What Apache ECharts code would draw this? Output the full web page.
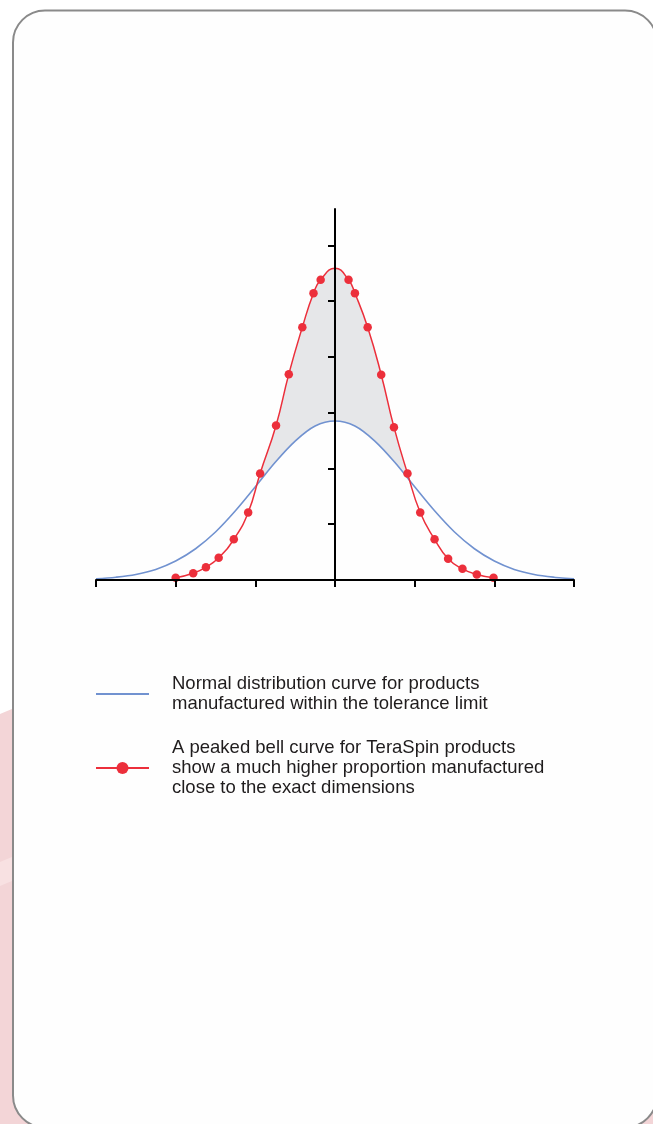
<!DOCTYPE html>
<html>
<head>
<meta charset="utf-8">
<script src="https://cdn.jsdelivr.net/npm/echarts@6/dist/echarts.min.js"></script>
<style>
html,body{margin:0;padding:0;background:#ffffff;}
#chart{width:653px;height:1124px;}
</style>
</head>
<body>
<div id="chart"></div>
<script>
// Normal distribution curve (blue)
var blueX = [-3, -2.75, -2.5, -2.25, -2, -1.75, -1.5, -1.25, -1, -0.75, -0.5, -0.25, 0, 0.25, 0.5, 0.75, 1, 1.25, 1.5, 1.75, 2, 2.25, 2.5, 2.75, 3];
var blueY = [0.02, 0.05, 0.10, 0.19, 0.34, 0.56, 0.86, 1.24, 1.67, 2.11, 2.49, 2.76, 2.85, 2.76, 2.49, 2.11, 1.67, 1.24, 0.86, 0.56, 0.34, 0.19, 0.10, 0.05, 0.02];
// Peaked bell curve (red)
var redX = [-2.00, -1.78, -1.62, -1.46, -1.27, -1.09, -0.94, -0.74, -0.58, -0.41, -0.27, -0.18, 0, 0.17, 0.25, 0.41, 0.58, 0.74, 0.91, 1.07, 1.25, 1.42, 1.60, 1.78, 1.99];
var redY = [0.04, 0.12, 0.23, 0.40, 0.73, 1.21, 1.91, 2.77, 3.69, 4.53, 5.14, 5.38, 5.59, 5.38, 5.14, 4.53, 3.68, 2.74, 1.91, 1.21, 0.73, 0.38, 0.20, 0.10, 0.04];
var redPeakIndex = 12; // curve passes through the peak, no marker drawn there
var yTickValues = [1, 2, 3, 4, 5, 6];
var blueName = 'Normal distribution curve for products\nmanufactured within the tolerance limit';
var redName = 'A peaked bell curve for TeraSpin products\nshow a much higher proportion manufactured\nclose to the exact dimensions';

var BLUE = '#7192d0';
var RED = '#ec2f3b';
var CARD = '#fefefe';

var blueData = blueX.map(function (x, i) { return [x, blueY[i]]; });
var redData = redX.map(function (x, i) {
  if (i === redPeakIndex) return { value: [x, redY[i]], symbol: 'none' };
  return [x, redY[i]];
});
var redFillData = redX.map(function (x, i) { return [x, redY[i]]; });

var chart = echarts.init(document.getElementById('chart'), null, { renderer: 'canvas' });
chart.setOption({
  animation: false,
  backgroundColor: '#ffffff',
  graphic: [
    { type: 'polygon', z: -30, silent: true,
      shape: { points: [[0, 714], [653, 440], [653, 1124], [0, 1124]] },
      style: { fill: '#f3d5d7' } },
    { type: 'polygon', z: -29, silent: true,
      shape: { points: [[0, 862], [653, 588], [653, 612], [0, 886]] },
      style: { fill: '#f8e1e2' } },
    { type: 'rect', z: -20, silent: true,
      shape: { x: 13, y: 10.5, width: 644, height: 1117, r: 32 },
      style: { fill: CARD, stroke: '#8a8a8a', lineWidth: 2 } }
  ],
  grid: { left: 96, right: 79, top: 209, bottom: 544, containLabel: false },
  xAxis: {
    type: 'value', min: -3, max: 3, interval: 1, z: 10,
    axisLine: { show: true, onZero: true, lineStyle: { color: '#000', width: 2 } },
    axisTick: { show: true, length: 7, inside: false, lineStyle: { color: '#000', width: 2 } },
    axisLabel: { show: false },
    splitLine: { show: false }
  },
  yAxis: {
    type: 'value', min: 0, max: 6.65, z: 10,
    axisLine: { show: true, onZero: true, lineStyle: { color: '#000', width: 2 } },
    axisTick: { show: true, length: 7, inside: false, customValues: yTickValues, lineStyle: { color: '#000', width: 2 } },
    axisLabel: { show: false },
    splitLine: { show: false }
  },
  legend: {
    orient: 'vertical', left: 95, top: 671, padding: 0,
    itemWidth: 53, itemHeight: 15, itemGap: 18,
    selectedMode: false,
    lineStyle: { width: 2 },
    textStyle: { fontFamily: 'Liberation Sans, Arial, sans-serif', fontSize: 18.5, lineHeight: 20, color: '#1f1c1d', padding: [0, 0, 6, 18] },
    data: [
      { name: blueName, itemStyle: { opacity: 0 } },
      { name: redName }
    ]
  },
  series: [
    {
      name: 'fill', type: 'line', data: redFillData, smooth: 0.5, z: 1, silent: true,
      showSymbol: false, symbol: 'none',
      lineStyle: { width: 0 },
      areaStyle: { color: '#e6e7e9', opacity: 1 }
    },
    {
      name: blueName, type: 'line', data: blueData, smooth: 0.35, z: 2, silent: true,
      showSymbol: false, symbol: 'none', color: BLUE,
      lineStyle: { color: BLUE, width: 1.6 },
      areaStyle: { color: CARD, opacity: 1 }
    },
    {
      name: redName, type: 'line', data: redData, smooth: 0.5, z: 3, silent: true,
      symbol: 'circle', symbolSize: 8.5, showSymbol: true, color: RED,
      itemStyle: { color: RED },
      lineStyle: { color: RED, width: 1.5 }
    }
  ]
});
</script>
</body>
</html>
